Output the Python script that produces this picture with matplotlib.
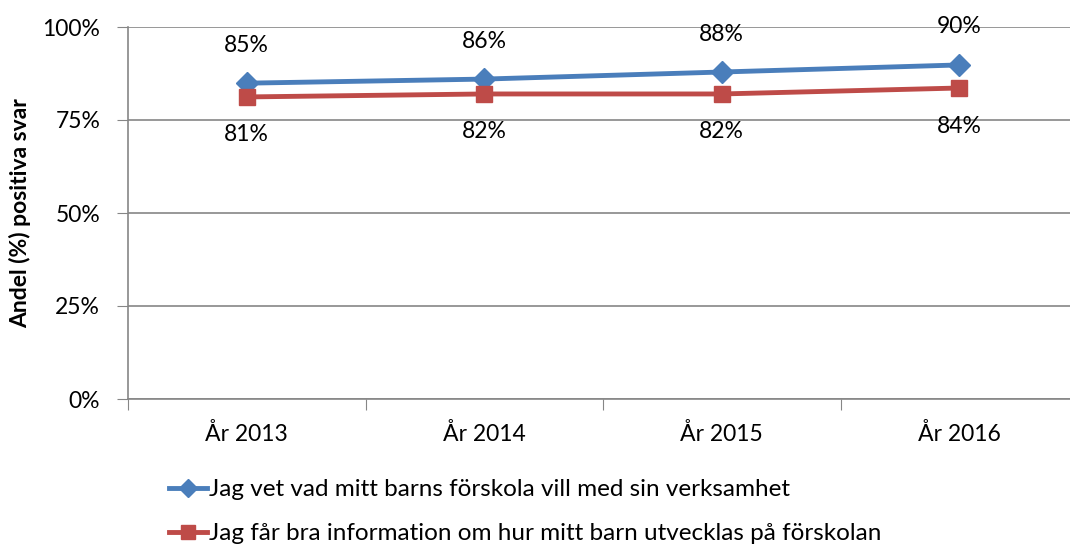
import numpy as np
import matplotlib.pyplot as plt

plt.rcParams['font.family'] = ['Lato', 'DejaVu Sans']

years = ['År 2013', 'År 2014', 'År 2015', 'År 2016']
vet_vad = [84.9, 86.0, 87.9, 89.8]
bra_info = [81.2, 82.0, 82.0, 83.6]
vet_labels = ['85%', '86%', '88%', '90%']
info_labels = ['81%', '82%', '82%', '84%']
names = ['Jag vet vad mitt barns förskola vill med sin verksamhet',
         'Jag får bra information om hur mitt barn utvecklas på förskolan']

blue = '#4a7ebb'
red = '#be4b48'
grid = '#868686'
fs = 16.5

fig = plt.figure(figsize=(10.7, 5.47), dpi=100)
ax = fig.add_axes([128 / 1070, 1 - 399 / 547, (1078 - 128) / 1070, (399 - 27) / 547])

x = np.arange(len(years))
l1, = ax.plot(x, vet_vad, color=blue, lw=3.5, marker='D', ms=11, label=names[0])
l2, = ax.plot(x, bra_info, color=red, lw=3.5, marker='s', ms=12, label=names[1])

for xi, v, t in zip(x, vet_vad, vet_labels):
    ax.annotate(t, (xi, v), xytext=(0, 38), textcoords='offset pixels',
                ha='center', va='center', fontsize=fs)
for xi, v, t in zip(x, bra_info, info_labels):
    ax.annotate(t, (xi, v), xytext=(0, -38), textcoords='offset pixels',
                ha='center', va='center', fontsize=fs)

ax.set_xlim(-0.5, 3.5)
ax.set_ylim(0, 100)
ax.set_yticks([0, 25, 50, 75, 100])
ax.set_yticklabels(['0%', '25%', '50%', '75%', '100%'], fontsize=fs)
ax.set_xticks(np.arange(-0.5, 4, 1))
ax.set_xticklabels([])
ax.set_xticks(x, minor=True)
ax.set_xticklabels(years, minor=True, fontsize=fs)
ax.tick_params(axis='x', which='minor', length=0, pad=17)
ax.tick_params(axis='x', which='major', length=8, color=grid)
ax.tick_params(axis='y', length=8, color=grid, pad=12)
ax.yaxis.grid(True, color=grid, lw=1.2)
ax.set_axisbelow(True)
for s in ['top', 'right']:
    ax.spines[s].set_visible(False)
for s in ['left', 'bottom']:
    ax.spines[s].set_color(grid)
    ax.spines[s].set_linewidth(1.2)

ax.set_ylabel('Andel (%) positiva svar', fontsize=16.5, fontweight='bold', labelpad=8)

fig.legend(handles=[l1, l2], loc='upper left', bbox_to_anchor=(157 / 1070, 1 - 467 / 547),
           frameon=False, fontsize=17.5, handlelength=1.55, handletextpad=0.1,
           labelspacing=0.95, borderpad=0, markerscale=0.85)

fig.savefig('out.png', dpi=100)
